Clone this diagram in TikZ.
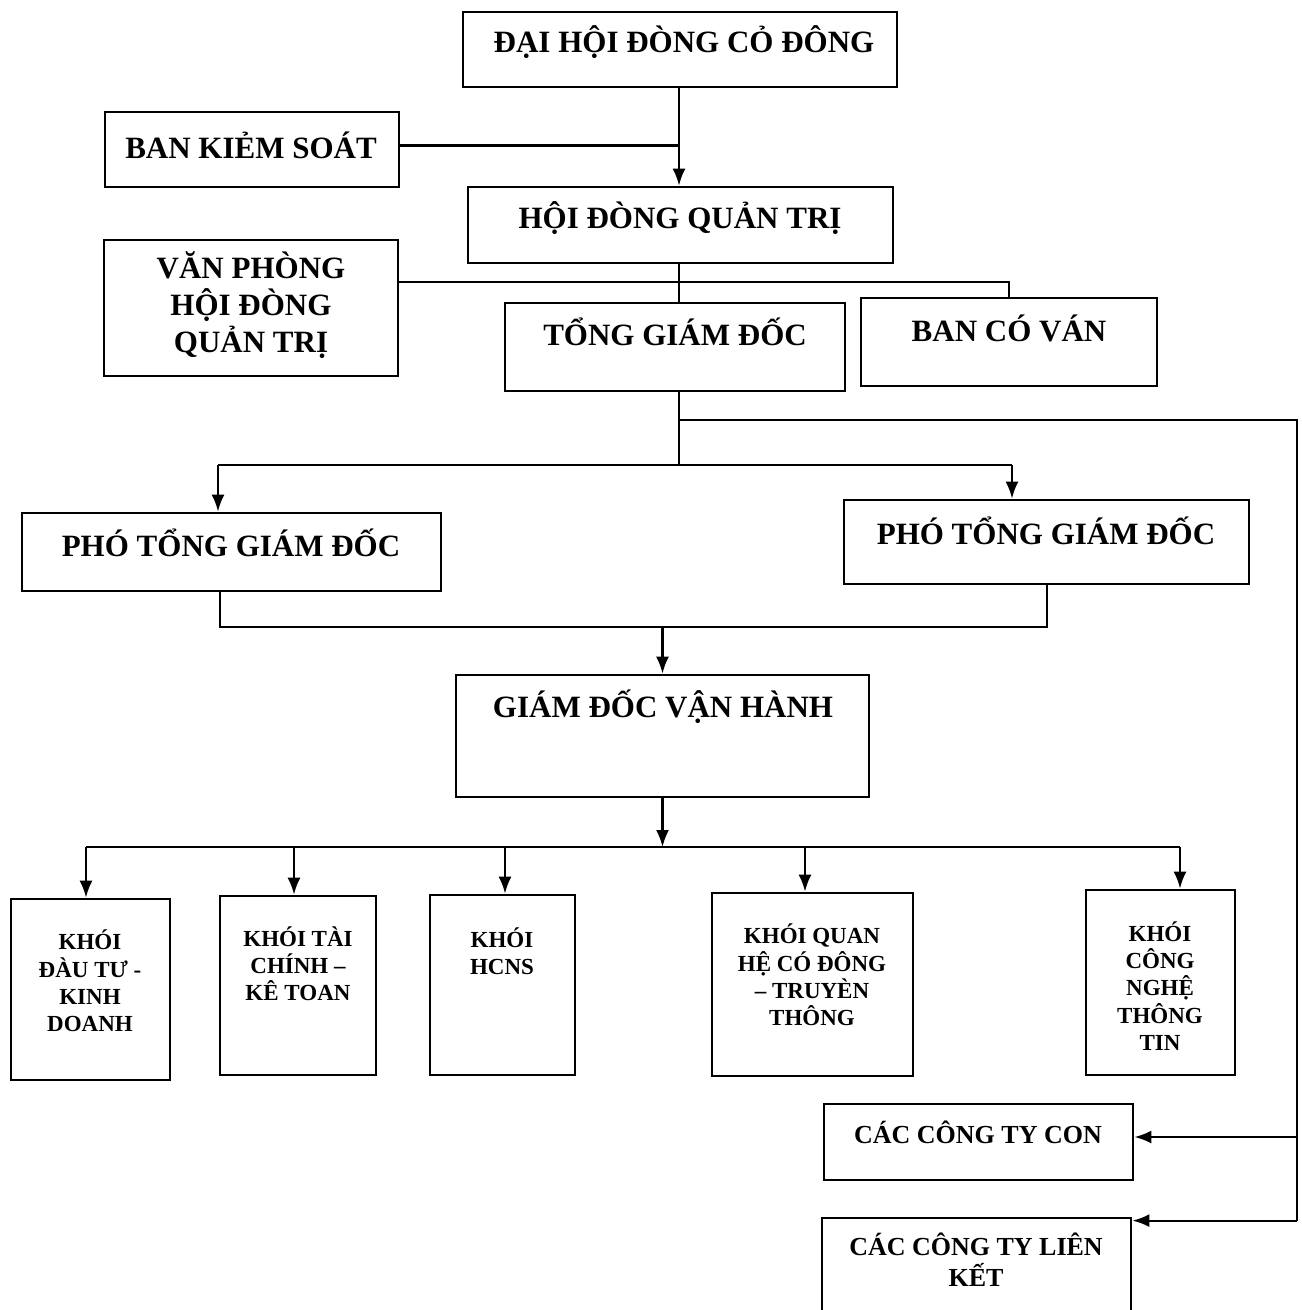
\documentclass[tikz,border=0pt]{standalone}
\usepackage{fontspec}
\setmainfont{Liberation Serif}
\usetikzlibrary{arrows.meta,fit}
\tikzset{
  orgbox/.style={draw=black, line width=1.4pt, inner sep=0pt, fit={#1}},
  big/.style={font=\bfseries\fontsize{15.5}{18.5}\selectfont, align=center, inner sep=0pt},
  mid/.style={font=\bfseries\fontsize{13}{15.5}\selectfont, align=center, inner sep=0pt},
  small/.style={font=\bfseries\fontsize{11.5}{13.6}\selectfont, align=center, inner sep=0pt},
  conn/.style={line width=1.1pt, draw=black},
  arr/.style={conn, -{Latex[length=8.5pt,width=6.5pt]}}
}
\begin{document}
\begin{tikzpicture}[x=0.5pt,y=-0.5pt]
\useasboundingbox[fill=white] (0,0) rectangle (1301,1310);

% boxes
\node[orgbox={(463,12) (897,87)}] (dh) {};
\node[big] (dht) at (684,42) {ĐẠI HỘI ĐÒNG CỎ ĐÔNG};
\node[orgbox={(105,112) (399,187)}] (bks) {};
\node[big] (bkst) at (251,145) {BAN KIẺM SOÁT};
\node[orgbox={(468,187) (893,263)}] (hd) {};
\node[big] (hdt) at (680,218) {HỘI ĐÒNG QUẢN TRỊ};
\node[orgbox={(104,240) (398,376)}] (vp) {};
\node[big] (vpt) at (251,305) {VĂN PHÒNG\\HỘI ĐÒNG\\QUẢN TRỊ};
\node[orgbox={(505,303) (845,391)}] (tgd) {};
\node[big] (tgdt) at (675,332) {TỔNG GIÁM ĐỐC};
\node[orgbox={(861,298) (1157,386)}] (bcv) {};
\node[big] (bcvt) at (1009,328) {BAN CÓ VÁN};
\node[orgbox={(22,513) (441,591)}] (ptl) {};
\node[big] (ptlt) at (231,543) {PHÓ TỔNG GIÁM ĐỐC};
\node[orgbox={(844,500) (1249,584)}] (ptr) {};
\node[big] (ptrt) at (1046,531) {PHÓ TỔNG GIÁM ĐỐC};
\node[orgbox={(456,675) (869,797)}] (gd) {};
\node[big] (gdt) at (663,707) {GIÁM ĐỐC VẬN HÀNH};

\node[orgbox={(11,899) (170,1080)}] (k1) {};
\node[small] (k1t) at (90,981) {KHÓI\\ĐÀU TƯ -\\KINH\\DOANH};
\node[orgbox={(220,896) (376,1075)}] (k2) {};
\node[small] (k2t) at (298,964) {KHÓI TÀI\\CHÍNH –\\KÊ TOAN};
\node[orgbox={(430,895) (575,1075)}] (k3) {};
\node[small] (k3t) at (502,951) {KHÓI\\HCNS};
\node[orgbox={(712,893) (913,1076)}] (k4) {};
\node[small] (k4t) at (812,975) {KHÓI QUAN\\HỆ CÓ ĐÔNG\\– TRUYÈN\\THÔNG};
\node[orgbox={(1086,890) (1235,1075)}] (k5) {};
\node[small] (k5t) at (1160,986) {KHÓI\\CÔNG\\NGHỆ\\THÔNG\\TIN};

\node[orgbox={(824,1104) (1133,1180)}] (con) {};
\node[mid] (cont) at (978,1132) {CÁC CÔNG TY CON};
\node[orgbox={(822,1218) (1131,1330)}] (lk) {};
\node[mid] (lkt) at (976,1260) {CÁC CÔNG TY LIÊN\\KẾT};

% junction coordinates
\coordinate (t1) at (679,420);
\coordinate (t2) at (679,465);
\coordinate (rr) at (1297,420);
\coordinate (a1) at (218,465);
\coordinate (a2) at (1012,465);
\coordinate (b1) at (220,627);
\coordinate (b2) at (1047,627);
\coordinate (c0) at (86,847);
\coordinate (c5) at (1180,847);
\coordinate (c2) at (294,847);
\coordinate (c3) at (505,847);
\coordinate (c4) at (805,847);
\coordinate (coni) at ([yshift=2.5pt]con.east);
\coordinate (lki) at ([yshift=-2pt]lk.north east);
\coordinate (bksi) at ([yshift=2pt]bks.east);

% connectors
\draw[arr] (dh.south -| t1) -- (hd.north -| t1);
\draw[conn] (bksi) -- (bksi -| t1);
\draw[conn] (hd.south -| t1) -- (tgd.north -| t1);
\draw[conn] ([yshift=13pt]vp.east) -| (bcv.north);
\draw[conn] (tgd.south -| t1) -- (t2);
\draw[conn] (t1) -- (rr) -- (rr |- lki);
\draw[arr] (rr |- coni) -- (coni);
\draw[arr] (rr |- lki) -- (lki);
\draw[conn] (a1) -- (a2);
\draw[arr] (a1) -- (a1 |- ptl.north);
\draw[arr] (a2) -- (a2 |- ptr.north);
\draw[conn] (b1 |- ptl.south) -- (b1) -- (b2) -- (b2 |- ptr.south);
\draw[arr] (gd.north |- b1) -- (gd.north);
\draw[arr] (gd.south) -- (gd.south |- c0);
\draw[conn] (c0) -- (c5);
\draw[arr] (c0) -- (c0 |- k1.north);
\draw[arr] (c2) -- (c2 |- k2.north);
\draw[arr] (c3) -- (c3 |- k3.north);
\draw[arr] (c4) -- (c4 |- k4.north);
\draw[arr] (c5) -- (c5 |- k5.north);
\end{tikzpicture}
\end{document}
